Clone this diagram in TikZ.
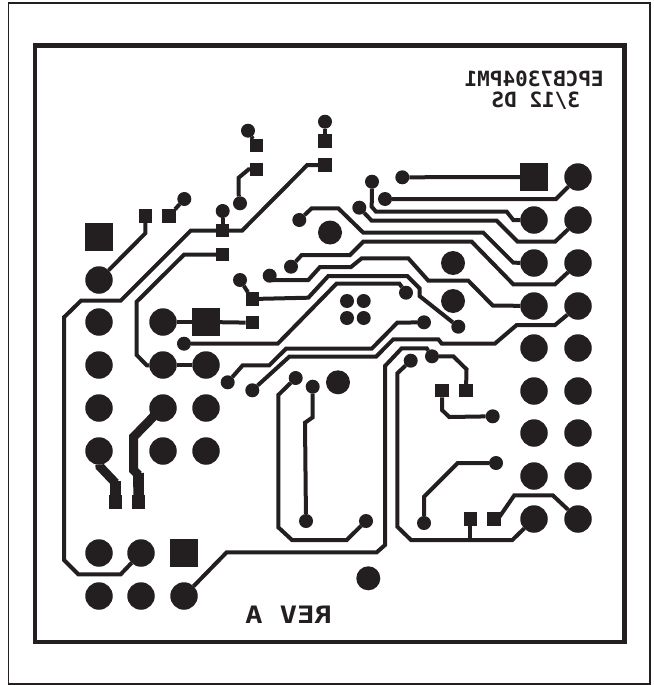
\documentclass[tikz,border=0pt]{standalone}
\usepackage{fontspec}
\newfontfamily\silkfont{DejaVu Sans Mono}
\definecolor{copper}{HTML}{231F20}
\tikzstyle{pad} = [circle, fill=copper, inner sep=0pt, outer sep=0pt, minimum size=27.5pt]
\tikzstyle{hole} = [circle, fill=copper, inner sep=0pt, outer sep=0pt, minimum size=24pt]
\tikzstyle{via} = [circle, fill=copper, inner sep=0pt, outer sep=0pt, minimum size=14pt]
\tikzstyle{square_pad} = [rectangle, fill=copper, inner sep=0pt, outer sep=0pt, minimum size=27.5pt]
\tikzstyle{smd_pad} = [rectangle, fill=copper, inner sep=0pt, outer sep=0pt, minimum size=13.5pt]
\tikzstyle{trace} = [draw=copper, line width=4pt, miter limit=2]
\tikzstyle{wide_trace} = [draw=copper, line width=9pt, miter limit=2]
\tikzstyle{neck_trace} = [draw=copper, line width=10.7pt]
\tikzstyle{silk} = [text=copper, inner sep=0pt, anchor=base]

\begin{document}
\begin{tikzpicture}[x=1pt, y=-1pt]

    \useasboundingbox (0, 0) rectangle (653, 685);

    \draw [copper, line width=1.5pt] (8.7, 3) rectangle (650, 684);
    \draw [copper, line width=4.6pt] (34.8, 45.7) rectangle (624.2, 642);

    % left connector
    \node (squareA) [square_pad] at (99, 237) {};
    \node (padL1) [pad] at (99, 280) {};
    \node (padL2) [pad] at (99, 322) {};
    \node (padL3) [pad] at (99, 365) {};
    \node (padL4) [pad] at (99, 408) {};
    \node (padL5) [pad] at (99, 451) {};
    \node (padM1) [pad] at (163, 322) {};
    \node (squareB) [square_pad] at (206, 322) {};
    \node (padM2) [pad] at (163, 365) {};
    \node (padN2) [pad] at (206, 365) {};
    \node (padM3) [pad] at (163, 408) {};
    \node (padN3) [pad] at (206, 408) {};
    \node (padM4) [pad] at (163, 451) {};
    \node (padN4) [pad] at (206, 451) {};

    % bottom connector
    \node (padB1) [pad] at (99, 553) {};
    \node (padB2) [pad] at (141, 553) {};
    \node (squareC) [square_pad] at (184, 553) {};
    \node (padB3) [pad] at (99, 596) {};
    \node (padB4) [pad] at (141, 596) {};
    \node (padB5) [pad] at (184, 596) {};

    % right connector
    \node (squareD) [square_pad] at (534, 177) {};
    \node (padR1) [pad] at (578, 177) {};
    \node (padC2) [pad] at (534, 220) {};
    \node (padR2) [pad] at (578, 220) {};
    \node (padC3) [pad] at (534, 263) {};
    \node (padR3) [pad] at (578, 263) {};
    \node (padC4) [pad] at (534, 306) {};
    \node (padR4) [pad] at (578, 306) {};
    \node (padC5) [pad] at (534, 348) {};
    \node (padR5) [pad] at (578, 348) {};
    \node (padC6) [pad] at (534, 391) {};
    \node (padR6) [pad] at (578, 391) {};
    \node (padC7) [pad] at (534, 433) {};
    \node (padR7) [pad] at (578, 433) {};
    \node (padC8) [pad] at (534, 476) {};
    \node (padR8) [pad] at (578, 476) {};
    \node (padC9) [pad] at (534, 519) {};
    \node (padR9) [pad] at (578, 519) {};

    % mounting holes
    \node (hole1) [hole] at (330, 232.5) {};
    \node (hole2) [hole] at (453, 263) {};
    \node (hole3) [hole] at (453, 301) {};
    \node (hole4) [hole] at (338, 382.3) {};
    \node (hole5) [hole] at (368.3, 578.3) {};

    % surface pads
    \node (smd1) [smd_pad] at (256.7, 145.7) {};
    \node (smd2) [smd_pad] at (256.7, 169.3) {};
    \node (smd3) [smd_pad] at (325, 141) {};
    \node (smd4) [smd_pad] at (325, 165) {};
    \node (smd5) [smd_pad] at (145.3, 216) {};
    \node (smd6) [smd_pad] at (169, 216) {};
    \node (smd7) [smd_pad] at (222.7, 230.7) {};
    \node (smd8) [smd_pad] at (222.7, 254.7) {};
    \node (smd9) [smd_pad] at (252.3, 299) {};
    \node (smd10) [smd_pad] at (252.3, 322.7) {};
    \node (smd11) [smd_pad] at (115.5, 502) {};
    \node (smd12) [smd_pad] at (138.7, 502) {};
    \node (smd13) [smd_pad] at (442, 390.7) {};
    \node (smd14) [smd_pad] at (466, 390.7) {};
    \node (smd15) [smd_pad] at (470.3, 519) {};
    \node (smd16) [smd_pad] at (494, 519) {};

    % vias
    \node (via1) [via] at (248, 130.7) {};
    \node (via2) [via] at (325, 121.7) {};
    \node (via3) [via] at (184.3, 199) {};
    \node (via4) [via] at (222.7, 211) {};
    \node (via5) [via] at (240, 203.3) {};
    \node (via6) [via] at (299.3, 220) {};
    \node (via7) [via] at (291, 266.7) {};
    \node (via8) [via] at (269.7, 275.7) {};
    \node (via9) [via] at (240, 280) {};
    \node (via10) [via] at (184, 343.7) {};
    \node (via11) [via] at (402.3, 177.3) {};
    \node (via12) [via] at (372, 181.7) {};
    \node (via13) [via] at (385, 199) {};
    \node (via14) [via] at (359.3, 207.7) {};
    \node (via15) [via] at (406, 292.7) {};
    \node (via16) [via] at (458.3, 326.7) {};
    \node (via17) [via] at (424, 322.3) {};
    \node (via18) [via] at (347, 301) {};
    \node (via19) [via] at (363.7, 301) {};
    \node (via20) [via] at (347, 318) {};
    \node (via21) [via] at (363.7, 318) {};
    \node (via22) [via] at (227.7, 382.3) {};
    \node (via23) [via] at (252.3, 390.3) {};
    \node (via24) [via] at (295.7, 378) {};
    \node (via25) [via] at (312.7, 386.7) {};
    \node (via26) [via] at (410.7, 360.7) {};
    \node (via27) [via] at (432, 356.3) {};
    \node (via28) [via] at (306, 521) {};
    \node (via29) [via] at (366, 521) {};
    \node (via30) [via] at (424, 523) {};
    \node (via31) [via] at (492.7, 416.3) {};
    \node (via32) [via] at (496, 463) {};

    % top left traces
    \draw [trace] (via1) -- (smd1);
    \draw [trace] (smd3) -- (via2);
    \draw [trace] (via4) -- (smd7);
    \draw [trace] (via3) -- (smd6);
    \draw [trace] (smd2) -- (248.7, 169.3) -- (238.7, 177.7) -- (238.7, 195) -- (via5);
    \draw [trace] (smd5) -- (145.3, 233.3) -- (padL1);
    \draw [trace] (smd4) -- (307.3, 165) -- (242, 230.7) -- (190.7, 230.7) -- (120.7, 300.7) -- (81, 300.7) -- (64, 317.3) -- (64, 560) -- (78.3, 574.3) -- (120.7, 574.3) -- (padB2);
    \draw [trace] (smd8) -- (184, 254.7) -- (136.7, 301.7) -- (136.7, 355) -- (146.7, 365.3) -- (padM2);
    \draw [trace] (padM2) -- (padN2);
    \draw [trace] (padM1) -- (squareB);
    \draw [trace] (squareB) -- (smd10);

    % middle traces
    \draw [trace] (via10) -- (277.7, 343.7) -- (336.7, 283.5) -- (399.3, 283.5) -- (via15);
    \draw [trace] (via9) -- (smd9) -- (308.3, 297.7) -- (328.3, 276) -- (407.3, 276) -- (419.5, 288.3) -- (419.5, 296) -- (via16);
    \draw [trace] (via8) -- (273.3, 280) -- (308.3, 280) -- (320, 267) -- (351, 267) -- (361.7, 258.3) -- (408.3, 258.3) -- (428.3, 280.7) -- (468.3, 280.7) -- (492.7, 305.5) -- (padC4);
    \draw [trace] (via7) -- (301.7, 255) -- (350, 255) -- (363.3, 241.7) -- (471.7, 241.7) -- (513.3, 284.3) -- (555, 284.3) -- (padR3);
    \draw [trace] (via6) -- (311.7, 208.3) -- (338.3, 208.3) -- (363.3, 232.7) -- (483.3, 232.7) -- (513.3, 262.7) -- (padC3);
    \draw [trace] (via14) -- (371.7, 220.7) -- (496.7, 220.7) -- (517.7, 241.7) -- (555, 241.7) -- (padR2);
    \draw [trace] (via12) -- (371.7, 206.7) -- (376, 211.7) -- (506.7, 211.7) -- (513.3, 220) -- (padC2);
    \draw [trace] (via13) -- (556, 199) -- (padR1);
    \draw [trace] (via11) -- (squareD);
    \draw [trace] (via17) -- (397.3, 322.7) -- (371.7, 348.7) -- (286, 348.7) -- (269.3, 365.3) -- (242.7, 365.3) -- (via22);
    \draw [trace] (via23) -- (289.3, 356.7) -- (376, 356.7) -- (393.3, 339.3) -- (438.3, 339.3) -- (441.7, 343.5) -- (495, 343.5) -- (516.7, 325) -- (555, 325) -- (padR4);

    % bottom traces
    \draw [trace] (via27) -- (426.7, 348.3) -- (401.7, 348.3) -- (385, 366) -- (385, 545) -- (376.7, 552.3) -- (226.7, 552.3) -- (padB5);
    \draw [trace] (via27) -- (453.3, 356.3) -- (466.5, 369.3) -- (smd14);
    \draw [trace] (via26) -- (397.3, 373.3) -- (397.3, 526.7) -- (411, 540) -- (512.3, 540) -- (padC9);
    \coordinate (tee1) at (470.3, 540);
    \draw [trace] (smd15) -- (tee1);
    \draw [trace] (smd16) -- (498, 519) -- (514.3, 495.3) -- (552.7, 495.3) -- (padR9);
    \draw [trace] (via30) -- (424, 496.7) -- (457.7, 463) -- (via32);
    \draw [trace] (smd13) -- (442, 410) -- (449.3, 417) -- (via31);
    \draw [trace] (via29) -- (346.7, 540) -- (292, 540) -- (278.3, 527.3) -- (278.3, 395) -- (via24);
    \draw [trace] (via25) -- (312.7, 417.3) -- (305, 422.7) -- (via28);

    % power traces
    \draw [wide_trace] (padM3) -- (155, 415) -- (133.5, 437) -- (133.5, 470) -- (138.5, 475);
    \draw [neck_trace] (138.5, 473) -- (smd12);
    \draw [wide_trace] (padL5) -- (100, 466.7) -- (115.5, 483);
    \draw [neck_trace] (115.5, 481) -- (smd11);

    \node (boardname) [silk, xscale=-1, font=\silkfont\bfseries\fontsize{21}{21}\selectfont] at (534.2, 86) {EPCB7304PM1};
    \node (boarddate) [silk, xscale=-1, font=\silkfont\bfseries\fontsize{21}{21}\selectfont] at (535.8, 107.5) {3/12 DS};
    \node (boardrev) [silk, xscale=-1.2, font=\silkfont\bfseries\fontsize{24}{24}\selectfont] at (288.5, 623) {REV A};

\end{tikzpicture}
\end{document}
